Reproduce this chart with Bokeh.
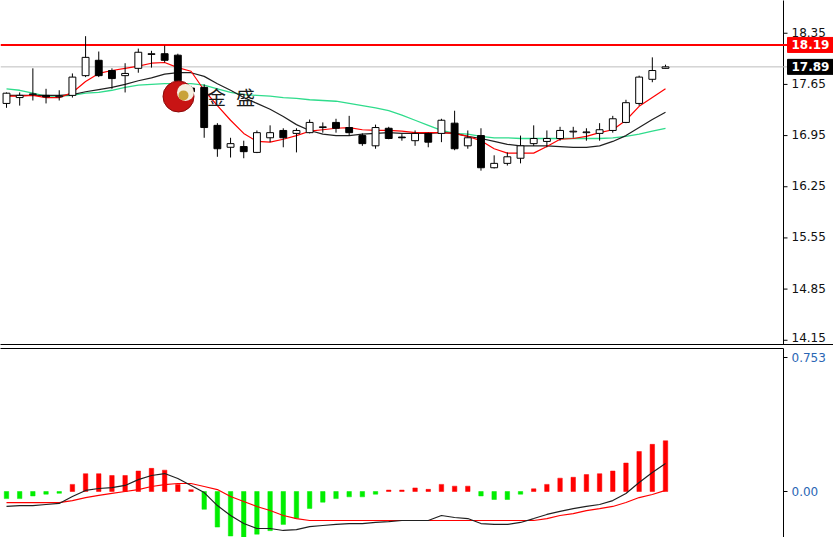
from bokeh.plotting import figure
from bokeh.layouts import column
from bokeh.models import LinearAxis, FixedTicker, ColumnDataSource, CustomJSTickFormatter
from bokeh.core.properties import value
from bokeh.embed import file_html
from bokeh.resources import INLINE

# ---------------- data ----------------
opens = [17.39, 17.47, 17.51, 17.50, 17.48, 17.50, 17.77, 17.98, 17.84, 17.77,
         17.87, 18.06, 18.07, 18.05, 17.60, 17.61, 17.09, 16.79, 16.80, 16.72,
         16.92, 17.02, 16.98, 16.99, 17.06, 17.13, 17.06, 16.95, 16.81, 17.05,
         16.93, 16.88, 16.98, 16.98, 17.12, 16.81, 16.95, 16.51, 16.57, 16.64,
         16.84, 16.87, 16.91, 17.00, 16.99, 16.98, 17.02, 17.13, 17.39, 17.72, 17.87]
highs = [17.54, 17.54, 17.87, 17.59, 17.57, 17.80, 18.31, 18.10, 17.87, 17.94,
         18.14, 18.11, 18.18, 18.07, 17.63, 17.65, 17.12, 16.92, 16.88, 17.02,
         17.09, 17.05, 17.05, 17.17, 17.13, 17.18, 17.22, 16.98, 17.10, 17.07,
         16.97, 17.02, 16.99, 17.18, 17.29, 17.02, 17.05, 16.68, 16.72, 16.95,
         17.09, 17.02, 17.07, 17.07, 17.05, 17.12, 17.22, 17.44, 17.77, 18.02, 17.92]
lows = [17.33, 17.36, 17.43, 17.39, 17.43, 17.47, 17.75, 17.75, 17.59, 17.54,
        17.81, 17.88, 17.95, 17.55, 17.48, 16.92, 16.66, 16.65, 16.64, 16.71,
        16.86, 16.79, 16.72, 16.98, 16.99, 16.99, 16.95, 16.81, 16.77, 16.90,
        16.88, 16.81, 16.79, 16.86, 16.75, 16.77, 16.47, 16.50, 16.54, 16.57,
        16.81, 16.79, 16.88, 16.92, 16.88, 16.88, 16.99, 17.12, 17.36, 17.68, 17.87]
closes = [17.53, 17.50, 17.52, 17.48, 17.49, 17.75, 18.02, 17.77, 17.73, 17.80,
          18.09, 18.07, 17.98, 17.70, 17.55, 17.06, 16.77, 16.84, 16.73, 16.99,
          16.99, 16.92, 17.02, 17.13, 17.07, 17.05, 16.99, 16.84, 17.06, 16.91,
          16.92, 16.98, 16.86, 17.16, 16.77, 16.92, 16.51, 16.57, 16.66, 16.81,
          16.91, 16.91, 17.02, 17.01, 17.00, 17.03, 17.18, 17.40, 17.75, 17.84, 17.89]

ma_red = [17.49, 17.49, 17.50, 17.47, 17.47, 17.54, 17.69, 17.80, 17.84, 17.87,
          17.90, 17.94, 17.95, 17.88, 17.83, 17.57, 17.36, 17.16, 16.98, 16.87,
          16.86, 16.90, 16.95, 17.01, 17.03, 17.05, 17.06, 17.03, 17.02, 17.02,
          17.01, 16.99, 16.99, 16.99, 16.98, 16.94, 16.88, 16.77, 16.71, 16.71,
          16.71, 16.80, 16.90, 16.91, 16.94, 16.99, 17.03, 17.16, 17.35, 17.47, 17.59]
ma_black = [17.50, 17.50, 17.50, 17.50, 17.50, 17.51, 17.55, 17.58, 17.61, 17.65,
            17.70, 17.74, 17.79, 17.81, 17.81, 17.76, 17.66, 17.57, 17.47, 17.39,
            17.31, 17.21, 17.10, 17.02, 16.97, 16.95, 16.95, 16.97, 16.98, 16.99,
            16.98, 16.98, 16.98, 16.99, 16.98, 16.94, 16.91, 16.87, 16.83, 16.81,
            16.81, 16.81, 16.80, 16.79, 16.79, 16.81, 16.87, 16.95, 17.06, 17.17, 17.27]
ma_green = [17.59, 17.57, 17.53, 17.49, 17.49, 17.50, 17.53, 17.54, 17.57, 17.61,
            17.64, 17.65, 17.66, 17.66, 17.66, 17.64, 17.59, 17.54, 17.51, 17.50,
            17.49, 17.47, 17.46, 17.44, 17.43, 17.42, 17.39, 17.36, 17.33, 17.29,
            17.23, 17.16, 17.09, 17.02, 16.98, 16.97, 16.94, 16.92, 16.92, 16.91,
            16.91, 16.91, 16.91, 16.91, 16.91, 16.91, 16.92, 16.94, 16.97, 17.01, 17.05]

macd_hist = [-0.04, -0.04, -0.025, -0.015, -0.01, 0.04, 0.10, 0.10, 0.09, 0.09,
             0.115, 0.13, 0.12, 0.04, 0.01, -0.10, -0.20, -0.25, -0.26, -0.24,
             -0.22, -0.185, -0.15, -0.095, -0.06, -0.04, -0.03, -0.03, -0.015, 0.008,
             0.008, 0.02, 0.012, 0.04, 0.03, 0.03, -0.025, -0.045, -0.045, -0.015,
             0.015, 0.04, 0.075, 0.08, 0.095, 0.10, 0.115, 0.16, 0.225, 0.265, 0.285]
macd_line = [-0.084, -0.079, -0.079, -0.073, -0.067, -0.028, 0.006, 0.017, 0.022, 0.034,
             0.067, 0.090, 0.101, 0.073, 0.034, -0.006, -0.079, -0.135, -0.180, -0.208,
             -0.208, -0.219, -0.214, -0.197, -0.191, -0.185, -0.180, -0.180, -0.174, -0.169,
             -0.163, -0.163, -0.163, -0.135, -0.146, -0.152, -0.180, -0.185, -0.185, -0.174,
             -0.152, -0.129, -0.112, -0.096, -0.084, -0.073, -0.051, -0.011, 0.051, 0.107, 0.157]
signal_line = [-0.062, -0.062, -0.062, -0.062, -0.062, -0.051, -0.034, -0.022, -0.011, 0.0,
               0.011, 0.028, 0.039, 0.045, 0.045, 0.028, 0.011, -0.028, -0.056, -0.084,
               -0.107, -0.135, -0.152, -0.163, -0.163, -0.163, -0.163, -0.163, -0.163, -0.163,
               -0.163, -0.163, -0.163, -0.163, -0.163, -0.163, -0.163, -0.163, -0.163, -0.163,
               -0.163, -0.152, -0.135, -0.124, -0.107, -0.096, -0.084, -0.062, -0.034, -0.017, 0.006]

price_ticks = [18.35, 17.65, 16.95, 16.25, 15.55, 14.85, 14.15]
macd_ticks = [0.753, 0.0]
resistance_level = 18.19
last_price = 17.89

# ---------------- layout / style constants ----------------
FONT = "DejaVu Sans"
RED = "#ff0000"
GREEN_MA = "#2fdc8c"
HIST_UP = "#ff0000"
HIST_DN = "#00ee00"
BAR_PX = 13.18          # pixels per bar
BAR0_PX = 6.0           # pixel x of first bar
PLOT_W = 833
AXIS_PX = 783           # pixel x of the price axis line
PRICE_PER_PX = 0.01368  # vertical scale of the price panel


def px2x(px):
    return (px - BAR0_PX) / BAR_PX


n = len(opens)
idx = list(range(n))
is_up = [c >= o for o, c in zip(opens, closes)]
src = ColumnDataSource(dict(
    x=idx, high=highs, low=lows,
    top=[max(o, c) for o, c in zip(opens, closes)],
    bottom=[min(o, c) for o, c in zip(opens, closes)],
    fill=["white" if u else "black" for u in is_up],
))

X_AXIS = px2x(AXIS_PX)

# ---------------- main price panel ----------------
p1 = figure(frame_width=PLOT_W, frame_height=344,
            x_range=(px2x(0), px2x(PLOT_W)), y_range=(14.092, 18.798),
            output_backend="svg", toolbar_location=None,
            x_axis_location=None, y_axis_location=None,
            min_border_left=0, min_border_top=0, min_border_bottom=2, min_border_right=0)
p1.grid.visible = False
p1.outline_line_color = None

sep1 = LinearAxis(ticker=FixedTicker(ticks=[]), major_tick_out=0, major_tick_in=0,
                  minor_tick_out=0, minor_tick_in=0, major_label_text_font_size="0px",
                  major_label_standoff=0, axis_line_color="black")
p1.add_layout(sep1, "below")

# price axis drawn in the plot's own coordinates
p1.segment([X_AXIS], [14.0], [X_AXIS], [19.0], line_color="black", line_width=1)
p1.segment([X_AXIS] * len(price_ticks), price_ticks,
           [px2x(AXIS_PX + 4)] * len(price_ticks), price_ticks, line_color="black", line_width=1)
tick_src = ColumnDataSource(dict(
    x=[px2x(AXIS_PX + 8)] * len(price_ticks), y=price_ticks,
    text=[f"{t:.2f}" for t in price_ticks],
    yo=[-1] * (len(price_ticks) - 1) + [-3],
))
p1.text(x="x", y="y", text="text", y_offset="yo", source=tick_src,
        text_align="left", text_baseline="middle",
        text_font=value(FONT), text_font_size="12px", text_color="#111111")

# horizontal price lines
p1.segment([px2x(0)], [last_price], [px2x(AXIS_PX + 4)], [last_price],
           line_color="#bdbdbd", line_width=1)
p1.segment([px2x(0)], [resistance_level], [px2x(AXIS_PX + 4)], [resistance_level],
           line_color=RED, line_width=2)

# price boxes on the axis
half_h = 7.5 * PRICE_PER_PX
for lvl, col in ((resistance_level, RED), (last_price, "black")):
    p1.quad(left=[px2x(AXIS_PX + 4)], right=[px2x(PLOT_W)], top=[lvl + half_h],
            bottom=[lvl - half_h], fill_color=col, line_color=col)
    p1.text([px2x(AXIS_PX + 8)], [lvl], text=[f"{lvl:.2f}"], text_align="left",
            text_baseline="middle", text_font=value(FONT), text_font_size="12px",
            text_font_style="bold", text_color="white")

# moving averages
p1.line(idx, ma_green, line_color=GREEN_MA, line_width=1.3)
p1.line(idx, ma_black, line_color="#202020", line_width=1.2)
p1.line(idx, ma_red, line_color=RED, line_width=1.2)

# candles
p1.segment(x0="x", x1="x", y0="low", y1="high", source=src, line_color="black", line_width=1)
p1.vbar(x="x", top="top", bottom="bottom", width=0.52, source=src,
        fill_color="fill", line_color="black", line_width=1)

# watermark logo
p1.scatter([px2x(178)], [17.485], size=31, fill_color="#c81414", line_color="#8a0a0a")
p1.scatter([px2x(185)], [17.54], size=17, fill_color="#f4efe0", line_color=None)
p1.scatter([px2x(183)], [17.50], size=10, fill_color="#c9a23a", line_color=None)
p1.text([px2x(216), px2x(245)], [17.485, 17.485], text=["金", "盛"], text_align="center",
        text_baseline="middle", text_font=value("Noto Sans CJK SC"),
        text_font_size="19px", text_color="#1a1a1a")

# ---------------- MACD panel ----------------
p2 = figure(frame_width=AXIS_PX, frame_height=189,
            x_range=(px2x(0), X_AXIS), y_range=(-0.2585, 0.8037),
            output_backend="svg", toolbar_location=None,
            x_axis_location=None, y_axis_location=None,
            min_border_left=0, min_border_top=2, min_border_bottom=0,
            min_border_right=PLOT_W - AXIS_PX)
p2.grid.visible = False
p2.outline_line_color = None

yax2 = LinearAxis(ticker=FixedTicker(ticks=macd_ticks),
                  major_tick_out=4, major_tick_in=0, minor_tick_out=0, minor_tick_in=0,
                  major_label_standoff=4, axis_line_color="black",
                  major_label_text_font=FONT, major_label_text_font_size="12px",
                  major_label_text_color="#2a66b4",
                  formatter=CustomJSTickFormatter(code="return tick == 0 ? '0.00' : tick.toFixed(3);"))
p2.add_layout(yax2, "right")
sep2 = LinearAxis(ticker=FixedTicker(ticks=[]), major_tick_out=0, major_tick_in=0,
                  minor_tick_out=0, minor_tick_in=0, major_label_text_font_size="0px",
                  major_label_standoff=0, axis_line_color="black")
p2.add_layout(sep2, "above")

hsrc = ColumnDataSource(dict(x=idx, top=macd_hist, bottom=[0.0] * n,
                             color=[HIST_UP if v > 0 else HIST_DN for v in macd_hist]))
p2.vbar(x="x", top="top", bottom="bottom", width=0.34, source=hsrc,
        fill_color="color", line_color="color", line_width=0.5)
p2.line(idx, signal_line, line_color=RED, line_width=1.2)
p2.line(idx, macd_line, line_color="#202020", line_width=1.2)

layout = column(p1, p2, spacing=0)
open("out.html", "w").write(file_html(layout, INLINE))
